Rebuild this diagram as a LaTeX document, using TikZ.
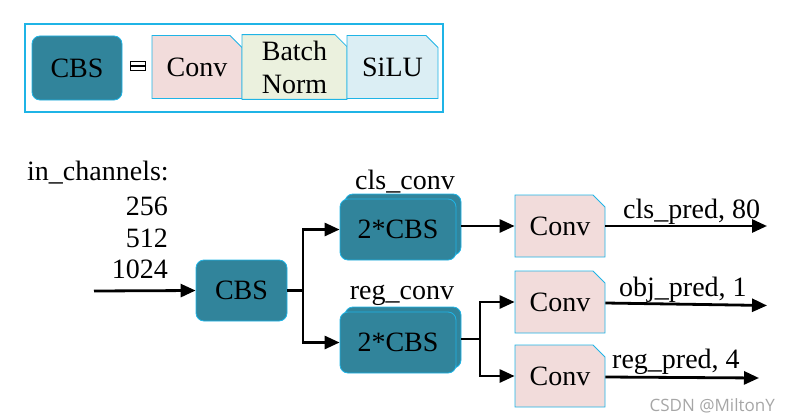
\documentclass[tikz,border=0pt]{standalone}
\usepackage{fontspec}
\setmainfont{Liberation Serif}
\newfontfamily\wmfont{Open Sans}
\usetikzlibrary{arrows.meta,shapes.misc,shadows}
\definecolor{teal}{HTML}{31849B}
\definecolor{edge}{HTML}{1FB4E6}
\definecolor{convfill}{HTML}{F2DCDB}
\definecolor{bnfill}{HTML}{EBF1DE}
\definecolor{silufill}{HTML}{DBEEF4}
\tikzset{
  txt/.style={font=\fontsize{28}{34}\selectfont, inner sep=0pt},
  cbsbox/.style={txt, draw=edge, line width=0.8pt, fill=teal, rounded corners=8pt, minimum width=91pt, minimum height=61pt},
  dblbox/.style={cbsbox, minimum width=116pt, copy shadow={shadow xshift=5pt, shadow yshift=5pt}},
  foldbox/.style={txt, draw=edge, line width=0.8pt, chamfered rectangle, chamfered rectangle corners=north east,
     chamfered rectangle xsep=6pt, chamfered rectangle ysep=6pt, minimum width=90pt, minimum height=62pt, inner sep=0pt},
  conn/.style={line width=2.8pt, -{Triangle[length=15pt,width=13pt]}},
  plain/.style={line width=2.8pt},
  lbl/.style={txt, anchor=base}
}
\begin{document}
\begin{tikzpicture}[x=1pt,y=-1pt]
\useasboundingbox (0,0) rectangle (790,420);
% legend
\node (legend) [draw=edge, line width=1.3pt, minimum width=418pt, minimum height=88pt, inner sep=0pt] at (234,68) {};
\node (lcbs) [cbsbox, minimum width=90pt, minimum height=64pt] at (77,68) {CBS};
\node (eqsym) [draw=black, line width=0.8pt, minimum width=15pt, minimum height=4.5pt, inner sep=0pt, anchor=south] at (138,66) {};
\node (eqsym2) [draw=black, line width=0.8pt, minimum width=15pt, minimum height=4.5pt, inner sep=0pt, anchor=north] at (138,66) {};
\node (lconv) [foldbox, fill=convfill, minimum width=90pt, minimum height=63pt] at (197,67) {Conv};
\node (lbn) [foldbox, fill=bnfill, minimum width=105pt, minimum height=63pt, align=center] at (294.5,67) {Batch\\[-1pt]Norm};
\node (lsilu) [foldbox, fill=silufill, minimum width=91pt, minimum height=63pt] at (392.5,67) {SiLU};
% input labels
\node (inch) [lbl, anchor=base west] at (27,180) {in\_channels:};
\node (c256) [lbl, anchor=base east] at (168,215) {256};
\node (c512) [lbl, anchor=base east] at (168,247) {512};
\node (c1024) [lbl, anchor=base east] at (168,278) {1024};
\coordinate (inp) at (94,291);
% main nodes
\node (cbs) [cbsbox] at (241.5,290.5) {CBS};
\node (clsconv) [dblbox] at (398,229.5) {2*CBS};
\node (regconv) [dblbox] at (398,342.5) {2*CBS};
\node (clsconvlbl) [lbl] at (405,189) {cls\_conv};
\node (regconvlbl) [lbl] at (402,299) {reg\_conv};
\node (convcls) [foldbox, fill=convfill] at (560,226) {Conv};
\node (convobj) [foldbox, fill=convfill] at (560,302) {Conv};
\node (convreg) [foldbox, fill=convfill] at (560,376) {Conv};
\coordinate (split1) at (303,290.5);
\coordinate (split2) at (480,339);
\coordinate (clsout) at (767,226);
\coordinate (objout) at (767,305.5);
\coordinate (regout) at (759,378);
% connectors
\draw[conn] (inp) -- (cbs.west);
\draw[plain] (cbs.east) -- (split1);
\draw[conn] (split1) |- (clsconv.west);
\draw[conn] (split1) |- (regconv.west);
\draw[conn] ([xshift=5pt,yshift=0pt]clsconv.east |- convcls.west) -- (convcls.west);
\draw[plain] ([xshift=5pt]regconv.east |- split2) -- (split2);
\draw[conn] (split2) |- (convobj.west);
\draw[conn] (split2) |- (convreg.west);
\draw[conn] (convcls.east) -- (clsout);
\draw[conn] ([yshift=-1pt]convobj.east) -- (objout);
\draw[conn] ([yshift=-1pt]convreg.east) -- (regout);
% output labels
\node (clslbl) [lbl, anchor=base west] at (623,218) {cls\_pred, 80};
\node (objlbl) [lbl, anchor=base west] at (619,296) {obj\_pred, 1};
\node (reglbl) [lbl, anchor=base west] at (612,368) {reg\_pred, 4};
% watermark
\node (wm) [anchor=base east, inner sep=0pt, text=black!35, font=\wmfont\fontsize{17}{20}\selectfont] at (775,411) {CSDN @MiltonY};
\end{tikzpicture}
\end{document}
